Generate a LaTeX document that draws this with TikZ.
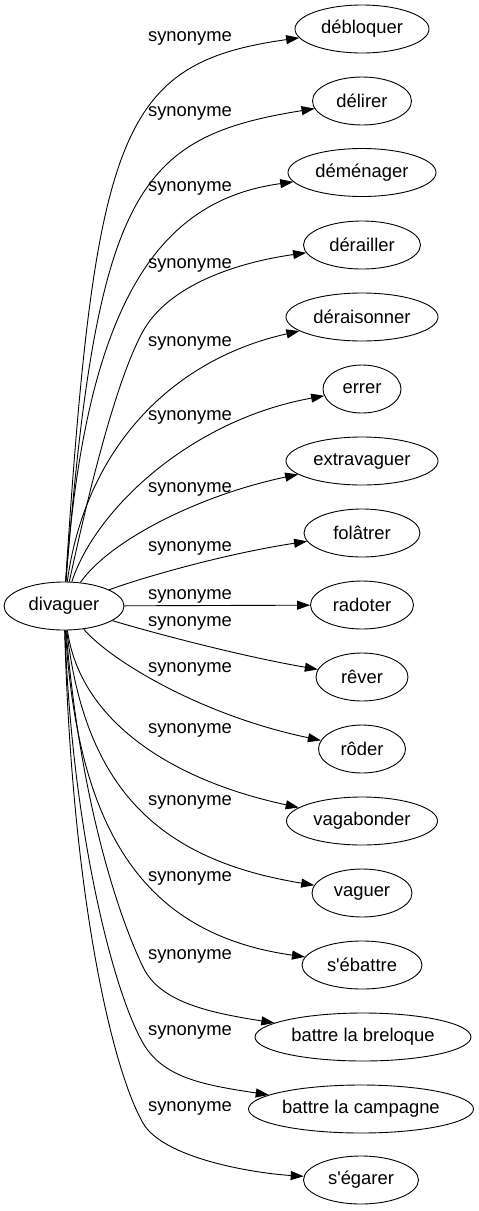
\documentclass[tikz,border=0pt]{standalone}
\usepackage{fontspec}
\setmainfont{Liberation Sans}[Ligatures=TeXOff]
\usetikzlibrary{shapes.geometric,arrows.meta}
\begin{document}
\begin{tikzpicture}[x=1pt,y=-1pt,
  every node/.style={font=\fontsize{18.4}{22}\selectfont},
  term/.style={draw, ellipse, line width=0.9pt, minimum height=48pt, inner sep=0pt},
  lbl/.style={inner sep=0pt},
  syn/.style={draw, line width=0.9pt, -{Triangle[length=13pt,width=9pt]}}]
\useasboundingbox (0,0) rectangle (479,1211);
\node[term, minimum width=120pt] (dv) at (64,606) {divaguer};
\node[term, minimum width=134pt] (n1) at (362,29) {débloquer};
\node[term, minimum width=99pt] (n2) at (362,101) {délirer};
\node[term, minimum width=148pt] (n3) at (362,172.5) {déménager};
\node[term, minimum width=117pt] (n4) at (362,245) {dérailler};
\node[term, minimum width=152pt] (n5) at (362,317) {déraisonner};
\node[term, minimum width=78pt] (n6) at (362,389) {errer};
\node[term, minimum width=152pt] (n7) at (362,461) {extravaguer};
\node[term, minimum width=116pt] (n8) at (362,533) {folâtrer};
\node[term, minimum width=103pt] (n9) at (362,605) {radoter};
\node[term, minimum width=92pt] (n10) at (362,677) {rêver};
\node[term, minimum width=87pt] (n11) at (362,749) {rôder};
\node[term, minimum width=151pt] (n12) at (362,821) {vagabonder};
\node[term, minimum width=100pt] (n13) at (362,893) {vaguer};
\node[term, minimum width=120pt] (n14) at (362,965) {s'ébattre};
\node[term, minimum width=216pt] (n15) at (363,1037) {battre la breloque};
\node[term, minimum width=225pt] (n16) at (361,1109) {battre la campagne};
\node[term, minimum width=115pt] (n17) at (361,1180) {s'égarer};

\draw[syn] (dv) .. controls (95,131) and (120,63) .. (n1);
\draw[syn] (dv) .. controls (97,190) and (137,137) .. (n2);
\draw[syn] (dv) .. controls (86,300) and (160,200) .. (n3);
\draw[syn] (dv) .. controls (87,500) and (114,386) .. (142,333)
                 .. controls (168,284) and (240,262) .. (n4);
\draw[syn] (dv) .. controls (85,450) and (170,360) .. (n5);
\draw[syn] (dv) .. controls (95,510) and (190,420) .. (n6);
\draw[syn] (dv) .. controls (110,540) and (200,495) .. (n7);
\draw[syn] (dv) .. controls (150,575) and (230,553) .. (n8);
\draw[syn] (dv) -- (n9);
\draw[syn] (dv) .. controls (150,632) and (240,656) .. (n10);
\draw[syn] (dv) .. controls (110,660) and (200,715) .. (n11);
\draw[syn] (dv) .. controls (80,720) and (170,780) .. (n12);
\draw[syn] (dv) .. controls (85,790) and (160,860) .. (n13);
\draw[syn] (dv) .. controls (78,840) and (150,935) .. (n14);
\draw[syn] (dv) .. controls (80,800) and (118,915) .. (143,967)
                 .. controls (160,1003) and (212,1013) .. (n15);
\draw[syn] (dv) .. controls (72,830) and (113,991) .. (143,1043)
                 .. controls (163,1078) and (204,1085) .. (n16);
\draw[syn] (dv) .. controls (72,900) and (113,1071) .. (143,1123)
                 .. controls (163,1158) and (252,1173) .. (n17);

\node[lbl] (l1) at (190,38) {synonyme};
\node[lbl] (l2) at (190,113) {synonyme};
\node[lbl] (l3) at (190,188) {synonyme};
\node[lbl] (l4) at (190,265) {synonyme};
\node[lbl] (l5) at (190,343) {synonyme};
\node[lbl] (l6) at (190,417) {synonyme};
\node[lbl] (l7) at (190,489) {synonyme};
\node[lbl] (l8) at (190,548) {synonyme};
\node[lbl] (l9) at (190,596) {synonyme};
\node[lbl] (l10) at (190,623) {synonyme};
\node[lbl] (l11) at (190,669) {synonyme};
\node[lbl] (l12) at (190,730) {synonyme};
\node[lbl] (l13) at (190,802) {synonyme};
\node[lbl] (l14) at (190,878) {synonyme};
\node[lbl] (l15) at (190,956) {synonyme};
\node[lbl] (l16) at (190,1032) {synonyme};
\node[lbl] (l17) at (190,1108) {synonyme};
\end{tikzpicture}
\end{document}
